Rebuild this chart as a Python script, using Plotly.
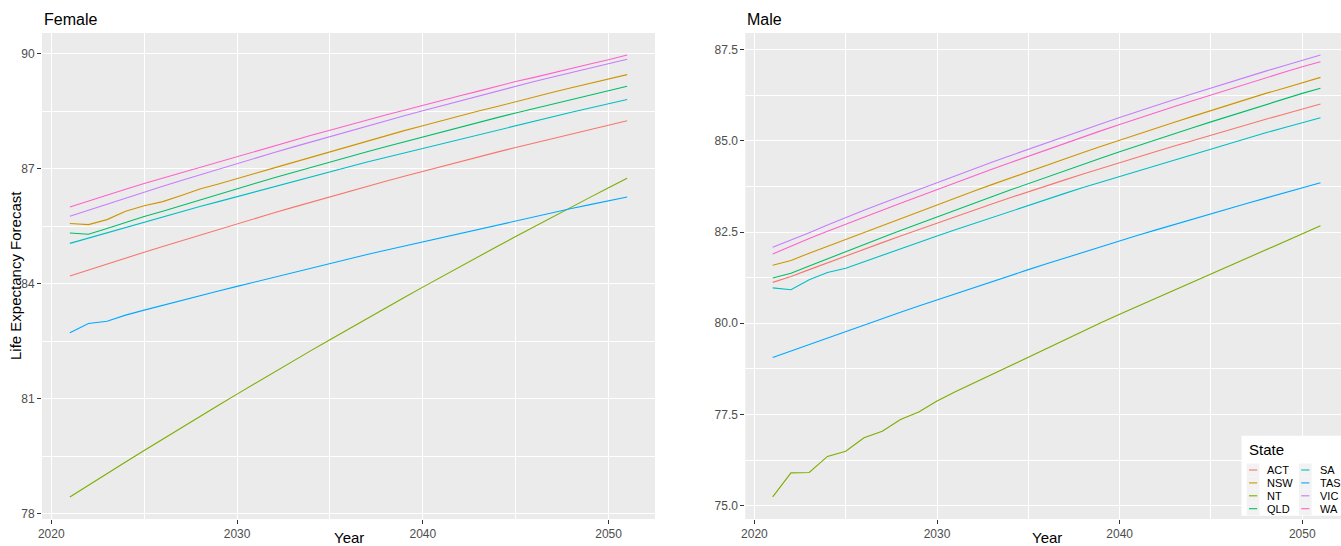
import plotly.graph_objects as go

years = list(range(2021, 2052))
states = ["ACT", "NSW", "NT", "QLD", "SA", "TAS", "VIC", "WA"]
colors = ["#F8766D", "#CD9600", "#7CAE00", "#00BE67", "#00BFC4", "#00A9FF", "#C77CFF", "#FF61CC"]

# Female forecasts
female_ACT = [84.20, 84.36, 84.51, 84.67, 84.82, 84.97, 85.12, 85.27, 85.42, 85.57, 85.71, 85.85, 85.99, 86.13, 86.27, 86.40, 86.54, 86.67, 86.80, 86.93, 87.06, 87.19, 87.31, 87.43, 87.55, 87.67, 87.79, 87.91, 88.03, 88.14, 88.25]
female_NSW = [85.57, 85.54, 85.67, 85.89, 86.03, 86.14, 86.30, 86.47, 86.60, 86.73, 86.88, 87.02, 87.16, 87.30, 87.44, 87.58, 87.72, 87.85, 87.99, 88.12, 88.25, 88.37, 88.50, 88.62, 88.75, 88.87, 88.99, 89.11, 89.22, 89.34, 89.45]
female_NT = [78.44, 78.75, 79.05, 79.35, 79.65, 79.95, 80.25, 80.54, 80.83, 81.12, 81.41, 81.70, 81.98, 82.26, 82.54, 82.82, 83.10, 83.37, 83.64, 83.91, 84.18, 84.45, 84.71, 84.97, 85.23, 85.49, 85.75, 86.00, 86.25, 86.50, 86.75]
female_QLD = [85.32, 85.29, 85.44, 85.60, 85.75, 85.89, 86.04, 86.19, 86.33, 86.47, 86.62, 86.76, 86.90, 87.03, 87.17, 87.30, 87.44, 87.57, 87.70, 87.83, 87.95, 88.08, 88.20, 88.33, 88.45, 88.57, 88.69, 88.80, 88.92, 89.03, 89.15]
female_SA = [85.05, 85.19, 85.33, 85.47, 85.60, 85.74, 85.87, 86.01, 86.14, 86.27, 86.40, 86.53, 86.66, 86.79, 86.92, 87.04, 87.17, 87.29, 87.41, 87.53, 87.65, 87.77, 87.89, 88.01, 88.13, 88.24, 88.35, 88.47, 88.58, 88.69, 88.80]
female_TAS = [82.72, 82.96, 83.02, 83.18, 83.31, 83.44, 83.56, 83.69, 83.81, 83.93, 84.05, 84.17, 84.29, 84.41, 84.53, 84.64, 84.76, 84.87, 84.98, 85.10, 85.21, 85.32, 85.43, 85.53, 85.64, 85.75, 85.85, 85.96, 86.06, 86.16, 86.26]
female_VIC = [85.76, 85.92, 86.08, 86.23, 86.38, 86.54, 86.69, 86.84, 86.98, 87.13, 87.27, 87.42, 87.56, 87.70, 87.84, 87.98, 88.11, 88.25, 88.38, 88.51, 88.64, 88.77, 88.90, 89.02, 89.14, 89.27, 89.39, 89.51, 89.63, 89.74, 89.85]
female_WA = [86.00, 86.16, 86.31, 86.46, 86.61, 86.75, 86.90, 87.04, 87.18, 87.32, 87.46, 87.60, 87.73, 87.87, 88.00, 88.14, 88.27, 88.40, 88.52, 88.65, 88.78, 88.90, 89.02, 89.15, 89.27, 89.38, 89.50, 89.62, 89.73, 89.84, 89.96]

# Male forecasts
male_ACT = [81.12, 81.28, 81.47, 81.66, 81.84, 82.03, 82.21, 82.39, 82.57, 82.75, 82.92, 83.10, 83.27, 83.44, 83.61, 83.77, 83.93, 84.09, 84.25, 84.40, 84.55, 84.71, 84.86, 85.01, 85.16, 85.30, 85.45, 85.59, 85.73, 85.87, 86.01]
male_NSW = [81.59, 81.72, 81.92, 82.11, 82.31, 82.50, 82.69, 82.88, 83.07, 83.26, 83.44, 83.62, 83.80, 83.98, 84.16, 84.33, 84.50, 84.68, 84.85, 85.02, 85.19, 85.35, 85.51, 85.67, 85.83, 85.99, 86.15, 86.30, 86.44, 86.60, 86.74]
male_NT = [75.24, 75.90, 75.91, 76.35, 76.49, 76.86, 77.04, 77.36, 77.57, 77.87, 78.12, 78.36, 78.60, 78.84, 79.08, 79.32, 79.55, 79.78, 80.02, 80.25, 80.47, 80.70, 80.93, 81.15, 81.37, 81.59, 81.81, 82.03, 82.24, 82.46, 82.67]
male_QLD = [81.24, 81.37, 81.57, 81.77, 81.97, 82.16, 82.35, 82.54, 82.73, 82.92, 83.11, 83.29, 83.47, 83.65, 83.83, 84.01, 84.18, 84.36, 84.53, 84.70, 84.87, 85.03, 85.20, 85.36, 85.52, 85.68, 85.84, 85.99, 86.14, 86.30, 86.44]
male_SA = [80.97, 80.92, 81.19, 81.39, 81.51, 81.69, 81.87, 82.05, 82.22, 82.39, 82.56, 82.73, 82.90, 83.07, 83.23, 83.40, 83.56, 83.72, 83.87, 84.03, 84.18, 84.34, 84.49, 84.64, 84.78, 84.93, 85.07, 85.22, 85.36, 85.49, 85.63]
male_TAS = [79.06, 79.24, 79.42, 79.60, 79.78, 79.95, 80.13, 80.30, 80.47, 80.64, 80.81, 80.98, 81.14, 81.31, 81.47, 81.63, 81.79, 81.94, 82.10, 82.25, 82.41, 82.56, 82.71, 82.85, 83.00, 83.15, 83.29, 83.43, 83.57, 83.71, 83.85]
male_VIC = [82.08, 82.27, 82.48, 82.69, 82.90, 83.10, 83.29, 83.48, 83.67, 83.86, 84.05, 84.23, 84.41, 84.59, 84.77, 84.95, 85.12, 85.30, 85.47, 85.64, 85.81, 85.97, 86.13, 86.29, 86.45, 86.61, 86.76, 86.91, 87.06, 87.21, 87.35]
male_WA = [81.90, 82.12, 82.32, 82.52, 82.72, 82.91, 83.10, 83.29, 83.48, 83.67, 83.86, 84.04, 84.22, 84.40, 84.58, 84.76, 84.93, 85.11, 85.28, 85.45, 85.62, 85.78, 85.94, 86.10, 86.26, 86.42, 86.58, 86.73, 86.88, 87.03, 87.17]

female = [female_ACT, female_NSW, female_NT, female_QLD, female_SA, female_TAS, female_VIC, female_WA]
male = [male_ACT, male_NSW, male_NT, male_QLD, male_SA, male_TAS, male_VIC, male_WA]

W, H = 1341, 546
FONT = "Liberation Sans, Arial, sans-serif"

fig = go.Figure()
for i, (st, col) in enumerate(zip(states, colors)):
    fig.add_trace(go.Scatter(
        x=years, y=female[i], mode="lines", name=st,
        line=dict(color=col, width=1.1), xaxis="x", yaxis="y", showlegend=False))
for i, (st, col) in enumerate(zip(states, colors)):
    fig.add_trace(go.Scatter(
        x=years, y=male[i], mode="lines", name=st,
        line=dict(color=col, width=1.1), xaxis="x2", yaxis="y2", showlegend=False))


def expand(vals, frac=0.05):
    lo, hi = min(vals), max(vals)
    pad = (hi - lo) * frac
    return [lo - pad, hi + pad]


fy = expand([v for s in female for v in s])
my = expand([v for s in male for v in s])

# pixel geometry of panels
plot_top, plot_bot = 33, 519
L0, L1 = 42, 655
R0 = 745.3
px_per_year_r = 18.26
r_hi = 2019.5 + (W - R0) / px_per_year_r

tickfont = dict(family=FONT, size=12, color="#4D4D4D")
common_axis = dict(
    showgrid=True, gridcolor="white", gridwidth=1.1,
    zeroline=False, showline=False,
    ticks="outside", ticklen=4, tickcolor="#333333", tickwidth=1,
    tickfont=tickfont,
)

fig.update_layout(
    width=W, height=H,
    margin=dict(l=0, r=0, t=plot_top, b=H - plot_bot, autoexpand=False),
    paper_bgcolor="white", plot_bgcolor="#EBEBEB",
    font=dict(family=FONT),
    showlegend=False,
    xaxis=dict(domain=[L0 / W, L1 / W], range=[2019.5, 2052.5], anchor="y",
               tick0=2020, dtick=10,
               minor=dict(tick0=2015, dtick=5, showgrid=True, gridcolor="white", gridwidth=0.55),
               **common_axis),
    yaxis=dict(domain=[0, 1], range=fy, anchor="x", tick0=78, dtick=3,
               minor=dict(tick0=76.5, dtick=1.5, showgrid=True, gridcolor="white", gridwidth=0.55),
               **common_axis),
    xaxis2=dict(domain=[R0 / W, 1.0], range=[2019.5, r_hi], anchor="y2",
                tick0=2020, dtick=10,
                minor=dict(tick0=2015, dtick=5, showgrid=True, gridcolor="white", gridwidth=0.55),
                **common_axis),
    yaxis2=dict(domain=[0, 1], range=my, anchor="x2", tick0=75, dtick=2.5, tickformat=".1f",
                minor=dict(tick0=73.75, dtick=1.25, showgrid=True, gridcolor="white", gridwidth=0.55),
                **common_axis),
)

ph = plot_bot - plot_top


def xp(px):
    return px / W


def yp(py):
    return (plot_bot - py) / ph


annots = [
    dict(text="Female", x=xp(L0), y=yp(20), xanchor="left", yanchor="middle",
         font=dict(family=FONT, size=16, color="black")),
    dict(text="Male", x=xp(R0), y=yp(20), xanchor="left", yanchor="middle",
         font=dict(family=FONT, size=16, color="black")),
    dict(text="Life Expectancy Forecast", x=xp(15), y=0.5, textangle=-90,
         xanchor="center", yanchor="middle",
         font=dict(family=FONT, size=15, color="black")),
    dict(text="Year", x=xp((L0 + L1) / 2), y=yp(537), xanchor="center", yanchor="middle",
         font=dict(family=FONT, size=15, color="black")),
    dict(text="Year", x=xp((R0 + 1348) / 2), y=yp(537), xanchor="center", yanchor="middle",
         font=dict(family=FONT, size=15, color="black")),
]

# Legend (ggplot-style, bottom-right, two columns)
shapes = []
lg_left, lg_top, lg_bot = 1241.5, 435.7, 515.7
shapes.append(dict(type="rect", xref="paper", yref="paper", layer="above",
                   x0=xp(lg_left), x1=xp(W + 5), y0=yp(lg_bot), y1=yp(lg_top),
                   fillcolor="white", line=dict(width=0)))
annots.append(dict(text="State", x=xp(1246.5), y=yp(449), xanchor="left", yanchor="middle",
                   font=dict(family=FONT, size=15, color="black")))
row_y = [470, 482.9, 495.8, 508.7]
col_key_x = [1246.8, 1299.0]
key_w, key_h = 12.6, 12.9
for i, (st, col) in enumerate(zip(states, colors)):
    c, r = divmod(i, 4)
    kx = col_key_x[c]
    cy = row_y[r]
    shapes.append(dict(type="rect", xref="paper", yref="paper", layer="above",
                       x0=xp(kx), x1=xp(kx + key_w), y0=yp(cy + key_h / 2), y1=yp(cy - key_h / 2),
                       fillcolor="#F2F2F2", line=dict(width=0)))
    shapes.append(dict(type="line", xref="paper", yref="paper", layer="above",
                       x0=xp(kx + 2.2), x1=xp(kx + key_w - 2.2), y0=yp(cy), y1=yp(cy),
                       line=dict(color=col, width=1.1)))
    annots.append(dict(text=st, x=xp(kx + 18.5), y=yp(cy), xanchor="left", yanchor="middle",
                       font=dict(family=FONT, size=11, color="black")))

for a in annots:
    a.update(xref="paper", yref="paper", showarrow=False)
fig.update_layout(annotations=annots, shapes=shapes)

fig.write_html("out.html",
               config={"displayModeBar": False},
               post_script="document.body.style.margin='0';document.body.style.padding='0';document.body.style.overflow='hidden';")
